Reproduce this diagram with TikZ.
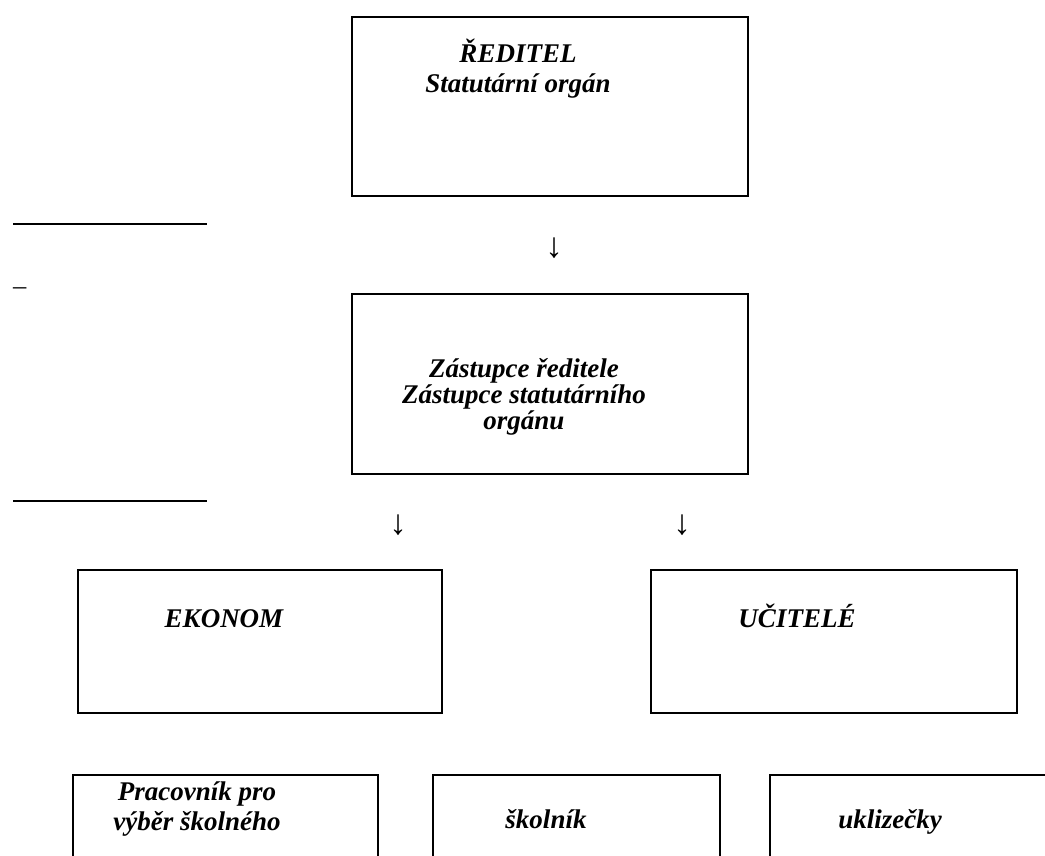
\documentclass[tikz,border=0pt]{standalone}
\usepackage{fontspec}
\setmainfont{Liberation Serif}
\usepackage{tikz}

\begin{document}
\begin{tikzpicture}[x=1pt, y=-1pt,
  box/.style={draw, line width=1.8pt, anchor=north west, inner sep=0pt},
  label/.style={font=\fontsize{27}{30}\selectfont\bfseries\itshape, align=center, inner sep=0pt, anchor=base},
  arr/.style={font=\fontsize{35}{36}\selectfont, inner sep=0pt},
  rule/.style={line width=1.4pt}]
% page frame, cuts the lowest row of boxes
\clip (0,0) rectangle (1045,856);

% left margin lines
\draw[rule] (13,224) -- (207,224);
\node[font=\fontsize{26.5}{30}\selectfont, inner sep=0pt, anchor=base west] (dash) at (13,294) {–};
\draw[rule] (13,501) -- (207,501);

% director
\node[box, minimum width=396pt, minimum height=179pt] (reditel) at (351,16) {};
\node[label] (t-reditel) at (518,93) {ŘEDITEL\\Statutární orgán};
\node[arr] (a1) at (554,248) {↓};

% deputy
\node[box, minimum width=396pt, minimum height=180pt] (zastupce) at (351,293) {};
\node[label, font=\fontsize{27}{26}\selectfont\bfseries\itshape] (t-zastupce) at (524,429) {Zástupce ředitele\\Zástupce statutárního\\orgánu};
\node[arr] (a2) at (398,525) {↓};
\node[arr] (a3) at (682,525) {↓};

% second level
\node[box, minimum width=364pt, minimum height=143pt] (ekonom) at (77,569) {};
\node[label] (t-ekonom) at (224,627) {EKONOM};
\node[box, minimum width=366pt, minimum height=143pt] (ucitele) at (650,569) {};
\node[label] (t-ucitele) at (797,627) {UČITELÉ};

% third level
\node[box, minimum width=305pt, minimum height=120pt] (pracovnik) at (72,774) {};
\node[label] (t-pracovnik) at (197,830) {Pracovník pro\\výběr školného};
\node[box, minimum width=287pt, minimum height=120pt] (skolnik) at (432,774) {};
\node[label] (t-skolnik) at (546,828) {školník};
\node[box, minimum width=300pt, minimum height=120pt] (uklizecky) at (769,774) {};
\node[label] (t-uklizecky) at (890,828) {uklizečky};
\end{tikzpicture}
\end{document}
